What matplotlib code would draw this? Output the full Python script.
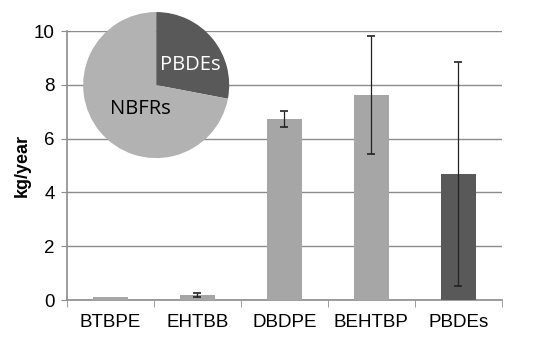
import numpy as np
import matplotlib.pyplot as plt

# bar data (kg/year)
categories = ['BTBPE', 'EHTBB', 'DBDPE', 'BEHTBP', 'PBDEs']
values = [0.12, 0.20, 6.73, 7.62, 4.68]
errors = [0.0, 0.07, 0.30, 2.20, 4.16]
bar_colors = ['#a6a6a6', '#a6a6a6', '#a6a6a6', '#a6a6a6', '#595959']

# pie inset data (%)
pie_labels = ['PBDEs', 'NBFRs']
pie_values = [28, 72]
pie_colors = ['#595959', '#b2b2b2']

plt.rcParams['font.family'] = ['Liberation Sans', 'DejaVu Sans']

fig = plt.figure(figsize=(5.47, 3.53), dpi=100)
ax = fig.add_axes([0.1225, 0.150, 0.795, 0.762])

x = np.arange(len(categories))
ax.bar(x, values, width=0.4, color=bar_colors, zorder=3)
err_x = [i for i in x if errors[i] > 0]
ax.errorbar(err_x, [values[i] for i in err_x], yerr=[errors[i] for i in err_x],
            fmt='none', ecolor='#222222', elinewidth=0.9, capsize=3, capthick=1.2, zorder=4)

ax.set_xlim(-0.5, len(categories) - 0.5)
ax.set_ylim(0, 10)
ax.set_yticks([0, 2, 4, 6, 8, 10])
ax.yaxis.grid(True, color='#8c8c8c', linewidth=1.0, zorder=0)
ax.set_axisbelow(True)

ax.set_xticks(x)
ax.set_xticklabels(categories, fontsize=13.5)
ax.tick_params(axis='x', length=0, pad=10)
ax.set_xticks(np.arange(-0.5, len(categories)), minor=True)
ax.tick_params(axis='x', which='minor', length=5, color='#8c8c8c', direction='out')
ax.tick_params(axis='y', labelsize=13.5, length=4, color='#8c8c8c', pad=5)

for s in ['top', 'right']:
    ax.spines[s].set_visible(False)
for s in ['left', 'bottom']:
    ax.spines[s].set_color('#8c8c8c')
    ax.spines[s].set_linewidth(1.2)

ax.set_ylabel('kg/year', fontsize=13, fontweight='bold', labelpad=2)

# pie inset
pax = fig.add_axes([0.152, 0.552, 0.267, 0.414])
wedges, _ = pax.pie(pie_values, colors=pie_colors, startangle=90, counterclock=False)
pax.set_xlim(-1, 1)
pax.set_ylim(-1, 1)
pax.set_aspect('equal')
pax.text(0.47, 0.27, pie_labels[0], color='white', fontsize=14.5,
         family=['Open Sans', 'DejaVu Sans'], ha='center', va='center')
pax.text(-0.22, -0.33, pie_labels[1], color='black', fontsize=14.5,
         family=['Open Sans', 'DejaVu Sans'], ha='center', va='center')

fig.savefig('out.png', dpi=100)
